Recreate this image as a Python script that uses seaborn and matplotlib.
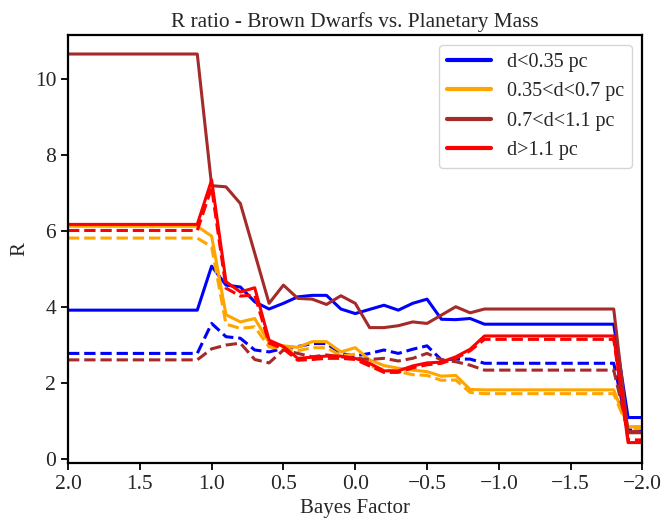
import numpy as np
import pandas as pd
import matplotlib
matplotlib.use("Agg")
import matplotlib.pyplot as plt
import seaborn as sns

bayes = [2.0, 1.9, 1.8, 1.7, 1.6, 1.5, 1.4, 1.3, 1.2, 1.1,
         1.0, 0.9, 0.8, 0.7, 0.6, 0.5, 0.4, 0.3, 0.2, 0.1,
         0.0, -0.1, -0.2, -0.3, -0.4, -0.5, -0.6, -0.7, -0.8, -0.9,
         -1.0, -1.1, -1.2, -1.3, -1.4, -1.5, -1.6, -1.7, -1.8, -1.9, -2.0]

blue_solid = [3.92] * 10 + [5.08, 4.58, 4.53, 4.14, 3.95, 4.10, 4.27, 4.31, 4.31, 3.95,
                            3.83, 3.94, 4.05, 3.92, 4.10, 4.21, 3.68, 3.67, 3.70, 3.55,
                            3.55] + [3.55] * 8 + [1.09, 1.09]
blue_dashed = [2.78] * 10 + [3.57, 3.22, 3.18, 2.87, 2.82, 2.91, 2.96, 3.04, 3.04, 2.78,
                             2.71, 2.78, 2.87, 2.78, 2.89, 2.98, 2.61, 2.63, 2.63, 2.52,
                             2.52] + [2.52] * 8 + [0.76, 0.76]
orange_solid = [6.13] * 10 + [5.87, 3.80, 3.61, 3.70, 3.07, 2.98, 2.94, 3.09, 3.09, 2.82,
                              2.93, 2.61, 2.46, 2.39, 2.34, 2.30, 2.18, 2.20, 1.83, 1.82,
                              1.82] + [1.82] * 8 + [0.85, 0.85]
orange_dashed = [5.82] * 10 + [5.59, 3.55, 3.44, 3.48, 2.95, 2.90, 2.85, 2.93, 2.93, 2.72,
                               2.76, 2.45, 2.35, 2.30, 2.22, 2.20, 2.07, 2.08, 1.75, 1.72,
                               1.72] + [1.72] * 8 + [0.80, 0.80]
brown_solid = [10.67] * 10 + [7.20, 7.17, 6.73, 5.42, 4.10, 4.58, 4.23, 4.21, 4.07, 4.30,
                              4.10, 3.46, 3.46, 3.51, 3.61, 3.57, 3.79, 4.01, 3.85, 3.95,
                              3.95] + [3.95] * 8 + [0.69, 0.69]
brown_dashed = [2.61] * 10 + [2.90, 3.00, 3.05, 2.62, 2.53, 2.87, 2.78, 2.69, 2.74, 2.69,
                              2.65, 2.62, 2.65, 2.58, 2.65, 2.78, 2.61, 2.56, 2.47, 2.34,
                              2.34] + [2.34] * 8 + [0.72, 0.72]
red_solid = [6.18] * 10 + [7.35, 4.67, 4.40, 4.51, 3.13, 2.96, 2.65, 2.68, 2.71, 2.71,
                           2.65, 2.52, 2.32, 2.32, 2.45, 2.53, 2.55, 2.69, 2.89, 3.24,
                           3.24] + [3.24] * 8 + [0.43, 0.43]
red_dashed = [6.02] * 10 + [7.15, 4.50, 4.29, 4.32, 3.05, 2.90, 2.60, 2.62, 2.65, 2.65,
                            2.62, 2.45, 2.28, 2.28, 2.40, 2.48, 2.52, 2.65, 2.85, 3.15,
                            3.15] + [3.15] * 8 + [0.50, 0.50]

labels = ["d<0.35 pc", "0.35<d<0.7 pc", "0.7<d<1.1 pc", "d>1.1 pc"]
colors = ["blue", "orange", "brown", "red"]
solids = [blue_solid, orange_solid, brown_solid, red_solid]
dasheds = [blue_dashed, orange_dashed, brown_dashed, red_dashed]

sns.set_style("ticks")
plt.rcParams["font.family"] = ["Liberation Serif", "DejaVu Serif"]

fig = plt.figure(figsize=(6.63, 5.23), dpi=100)
ax = fig.add_axes([0.1026, 0.1153, 0.8664, 0.8177])

for lab, col, s, d in zip(labels, colors, solids, dasheds):
    df_s = pd.DataFrame({"x": bayes, "y": s})
    df_d = pd.DataFrame({"x": bayes, "y": d})
    sns.lineplot(data=df_s, x="x", y="y", color=col, lw=2.2, label=lab, ax=ax,
                 estimator=None, sort=False)
    sns.lineplot(data=df_d, x="x", y="y", color=col, lw=2.2, linestyle="--", ax=ax,
                 estimator=None, sort=False)

ax.set_xlim(2.0, -2.0)
ax.set_ylim(-0.1, 11.17)
ax.set_xticks([2.0, 1.5, 1.0, 0.5, 0.0, -0.5, -1.0, -1.5, -2.0])
ax.set_yticks([0, 2, 4, 6, 8, 10])
ax.set_xlabel("Bayes Factor", fontsize=15)
ax.set_ylabel("R", fontsize=15)
ax.set_title("R ratio - Brown Dwarfs vs. Planetary Mass", fontsize=15.3)
ax.tick_params(axis="both", labelsize=15.5, direction="out", length=5, width=1.3, color="black")
for sp in ax.spines.values():
    sp.set_linewidth(1.6)
    sp.set_color("black")

leg = ax.legend(loc="upper right", fontsize=14.5, frameon=True, handlelength=2.2)
for line in leg.get_lines():
    line.set_linewidth(3)

fig.savefig("out.png", dpi=100)
